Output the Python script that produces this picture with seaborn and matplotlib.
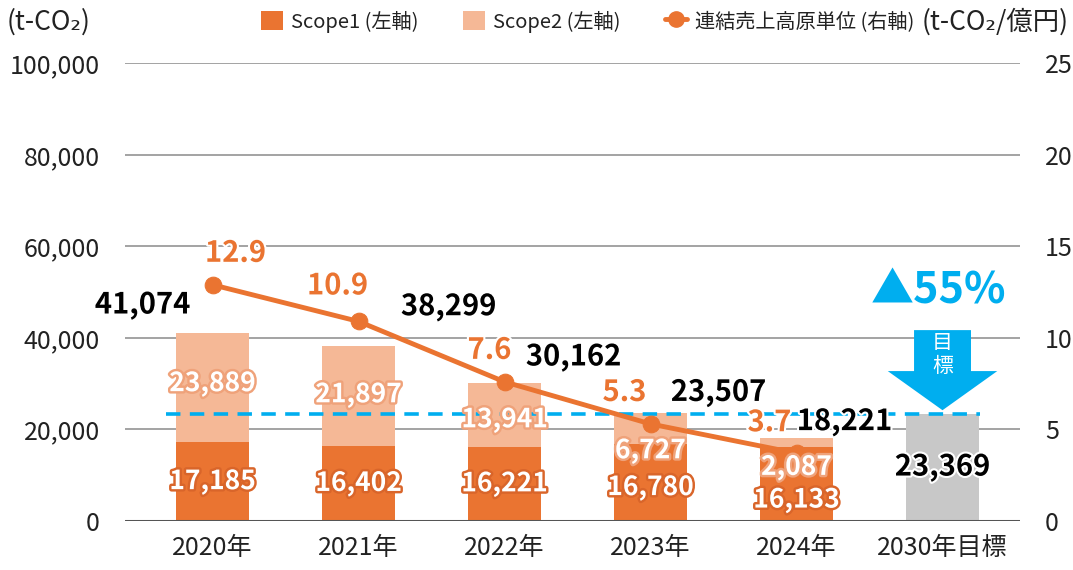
import numpy as np
import pandas as pd
import matplotlib
matplotlib.use("Agg")
import matplotlib.pyplot as plt
import matplotlib.patheffects as pe
from matplotlib.patches import Polygon
from matplotlib.lines import Line2D
from matplotlib.patches import Patch
import seaborn as sns

# ---------------- data ----------------
categories = ["2020年", "2021年", "2022年", "2023年", "2024年", "2030年目標"]
years = ["2020年", "2021年", "2022年", "2023年", "2024年"]
scope1 = [17185, 16402, 16221, 16780, 16133]
scope2 = [23889, 21897, 13941, 6727, 2087]
totals = [41074, 38299, 30162, 23507, 18221]
intensity = [12.9, 10.9, 7.6, 5.3, 3.7]
target_label = "2030年目標"
target_value = 23369
reduction_text = "▲55%"
left_ticks = [0, 20000, 40000, 60000, 80000, 100000]
right_ticks = [0, 5, 10, 15, 20, 25]

# ---------------- style ----------------
sns.set_theme(style="white")
plt.rcParams["font.family"] = ["Noto Sans CJK JP", "DejaVu Sans"]

C_S1 = "#EA7431"
C_S2 = "#F5B896"
C_LINE = "#EA7431"
C_GRAY = "#C8C8C8"
C_BLUE = "#00AEEF"
C_TXT = "#222222"

fig = plt.figure(figsize=(10.73, 5.70), dpi=100)
ax = fig.add_axes([0.1165, 0.086, 0.834, 0.803])

df = pd.DataFrame({"year": years, "scope1": scope1, "scope2": scope2, "total": totals})

bar_kw = dict(width=0.5, saturation=1, ax=ax, linewidth=0, edgecolor="none")
sns.barplot(data=df, x="year", y="total", order=categories, color=C_S2, zorder=2, **bar_kw)
sns.barplot(data=df, x="year", y="scope1", order=categories, color=C_S1, zorder=3, **bar_kw)
sns.barplot(x=[target_label], y=[target_value], order=categories, color=C_GRAY,
            zorder=2, **bar_kw)

ax.set_xlim(-0.6, 5.53)
ax.set_ylim(0, 100000)
ax.set_yticks(left_ticks)
ax.set_yticklabels([f"{v:,}" for v in left_ticks])
ax.set_xlabel("")
ax.set_ylabel("")
for s in ax.spines.values():
    s.set_visible(False)
for v in left_ticks:
    ax.axhline(v, color="#555555" if v == 0 else "#9C9C9C",
               lw=2.2 if v == 0 else 1.3, zorder=1 if v else 4)
ax.tick_params(axis="y", length=0, pad=18, labelsize=18, labelcolor=C_TXT)
ax.tick_params(axis="x", length=0, pad=10, labelsize=18, labelcolor=C_TXT)

# target dashed line
ax.hlines(target_value, -0.32, 5.26, colors=C_BLUE, lw=2.6,
          linestyles=(0, (4, 2.6)), zorder=5)

# right axis
ax2 = ax.twinx()
ax2.set_ylim(0, 25)
ax2.set_yticks(right_ticks)
ax2.set_yticklabels([str(v) for v in right_ticks])
ax2.tick_params(axis="y", length=0, pad=18, labelsize=18, labelcolor=C_TXT)
for s in ax2.spines.values():
    s.set_visible(False)
ax2.grid(False)

sns.lineplot(x=np.arange(len(years)), y=intensity, ax=ax2, color=C_LINE, lw=3.5,
             marker="o", markersize=12, markeredgecolor=C_LINE, zorder=6)
ax2.set_xlim(-0.6, 5.53)

# arrow to target
xc = categories.index(target_label)
arrow = Polygon([(xc - 0.195, 41700), (xc + 0.195, 41700), (xc + 0.195, 32750),
                 (xc + 0.375, 32750), (xc, 24200), (xc - 0.375, 32750),
                 (xc - 0.195, 32750)], closed=True, facecolor=C_BLUE,
                edgecolor="none", transform=ax.transData, zorder=7)
ax2.add_patch(arrow)
ax2.text(xc, 36300, "目\n標", transform=ax.transData, ha="center", va="center",
         color="white", fontsize=15, linespacing=1.05, zorder=8)
ax2.text(xc - 0.03, 50300, reduction_text, transform=ax.transData, ha="center",
         va="center", color=C_BLUE, fontsize=31, fontweight="bold", zorder=8)

white_halo = [pe.withStroke(linewidth=3, foreground="white")]

# total labels
tot_off = [(-70, 28), (90, 39), (69, 26), (68, 21), (48, 16)]
for i, (t, (dx, dy)) in enumerate(zip(totals, tot_off)):
    ax2.annotate(f"{t:,}", xy=(i, t), xycoords=ax.transData, xytext=(dx, dy),
                 textcoords="offset pixels", ha="center", va="center",
                 fontsize=21, fontweight="bold", color="black", zorder=9,
                 path_effects=white_halo)
ax2.annotate(f"{target_value:,}", xy=(xc, target_value), xycoords=ax.transData,
             xytext=(0, -53), textcoords="offset pixels", ha="center", va="center",
             fontsize=21, fontweight="bold", color="black", zorder=9,
             path_effects=white_halo)

# intensity labels
int_off = [(23, 32), (-21, 36), (-15, 32), (-26, 32), (-27, 31)]
for i, (v, (dx, dy)) in enumerate(zip(intensity, int_off)):
    ax2.annotate(f"{v}", xy=(i, v), xytext=(dx, dy), textcoords="offset pixels",
                 ha="center", va="center", fontsize=21, fontweight="bold",
                 color=C_LINE, zorder=9, path_effects=white_halo)

# segment labels
s2_off = [4, 1, -5, -22, -25]
s1_off = [0, 0, 0, -5, -16]
for i in range(len(years)):
    mid2 = scope1[i] + scope2[i] / 2
    ax2.annotate(f"{scope2[i]:,}", xy=(i, mid2), xycoords=ax.transData,
                 xytext=(0, s2_off[i]), textcoords="offset pixels", ha="center",
                 va="center", fontsize=19, fontweight="bold", color="white",
                 zorder=9, path_effects=[pe.withStroke(linewidth=3.5, foreground="#EFA27A")])
    mid1 = scope1[i] / 2
    ax2.annotate(f"{scope1[i]:,}", xy=(i, mid1), xycoords=ax.transData,
                 xytext=(0, s1_off[i]), textcoords="offset pixels", ha="center",
                 va="center", fontsize=19, fontweight="bold", color="white",
                 zorder=9, path_effects=[pe.withStroke(linewidth=3.5, foreground="#D9652A")])

# unit labels
fig.text(0.006, 0.962, "(t-CO₂)", ha="left", va="center", fontsize=19, color=C_TXT)
fig.text(0.996, 0.962, "(t-CO₂/億円)", ha="right", va="center", fontsize=19, color=C_TXT)

# legend
handles = [Patch(facecolor=C_S1, edgecolor="none"),
           Patch(facecolor=C_S2, edgecolor="none"),
           Line2D([0], [0], color=C_LINE, lw=3.5, marker="o", markersize=11)]
labels = ["Scope1 (左軸)", "Scope2 (左軸)", "連結売上高原単位 (右軸)"]
fig.legend(handles, labels, loc="center", bbox_to_anchor=(0.548, 0.962), ncol=3,
           frameon=False, fontsize=14.5, handlelength=1.1, handleheight=1.1,
           handletextpad=0.4, columnspacing=2.2, labelcolor=C_TXT)

fig.savefig("out.png", dpi=100)
